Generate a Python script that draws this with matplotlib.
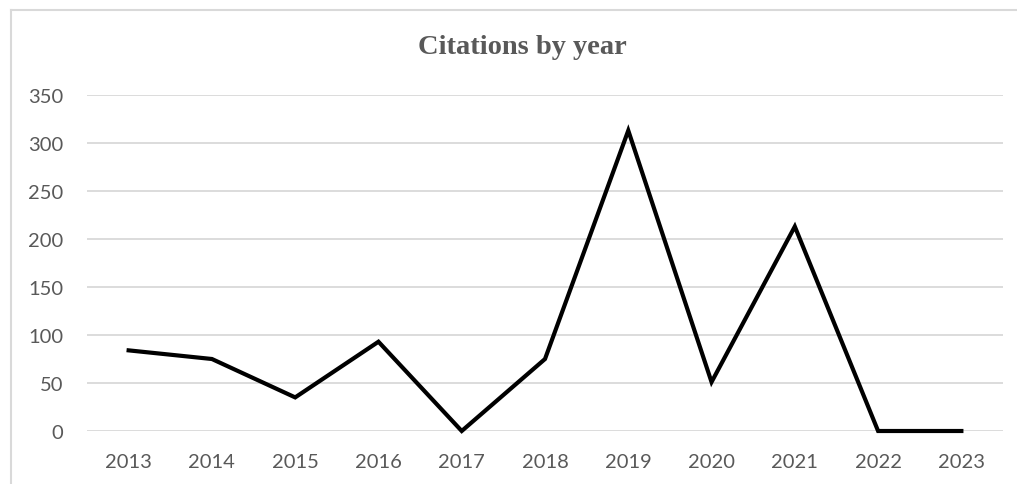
import matplotlib.pyplot as plt
from matplotlib.lines import Line2D

# Citation counts per year
years = ["2013", "2014", "2015", "2016", "2017", "2018",
         "2019", "2020", "2021", "2022", "2023"]
citations = [84, 75, 35, 93, 0, 75, 313, 51, 213, 0, 0]
y_ticks = [0, 50, 100, 150, 200, 250, 300, 350]

W, H = 1017, 485
fig = plt.figure(figsize=(W / 100, H / 100), dpi=100)
ax = fig.add_axes([87 / W, 1 - 432 / H, (1003 - 87) / W, (432 - 96) / H])

text_color = "#595959"
grid_color = "#d9d9d9"

x = range(len(years))
ax.plot(x, citations, color="black", linewidth=3.0, solid_joinstyle="miter",
        clip_on=False, zorder=3)

ax.set_xlim(-0.5, len(years) - 0.5)
ax.set_ylim(0, 350)
ax.set_yticks(y_ticks)
ax.set_xticks(list(x))
ax.set_xticklabels(years)
ax.yaxis.grid(True, color=grid_color, linewidth=1.3)
ax.set_axisbelow(True)
for s in ax.spines.values():
    s.set_visible(False)
ax.tick_params(length=0, labelsize=14.5, labelcolor=text_color)
ax.tick_params(axis="y", pad=17)
ax.tick_params(axis="x", pad=16)
for lbl in ax.get_xticklabels() + ax.get_yticklabels():
    lbl.set_family("Lato")

fig.text(522 / W, 1 - 47 / H, "Citations by year", ha="center", va="center",
         fontsize=20.5, fontweight="bold", color=text_color,
         family="Liberation Serif")

# chart frame (top and left edges)
fig.add_artist(Line2D([11 / W, 11 / W], [0, 1 - 11 / H], color=grid_color,
                      linewidth=1.5, transform=fig.transFigure))
fig.add_artist(Line2D([11 / W, 1], [1 - 11 / H, 1 - 11 / H], color=grid_color,
                      linewidth=1.5, transform=fig.transFigure))

fig.savefig("out.png", dpi=100)
